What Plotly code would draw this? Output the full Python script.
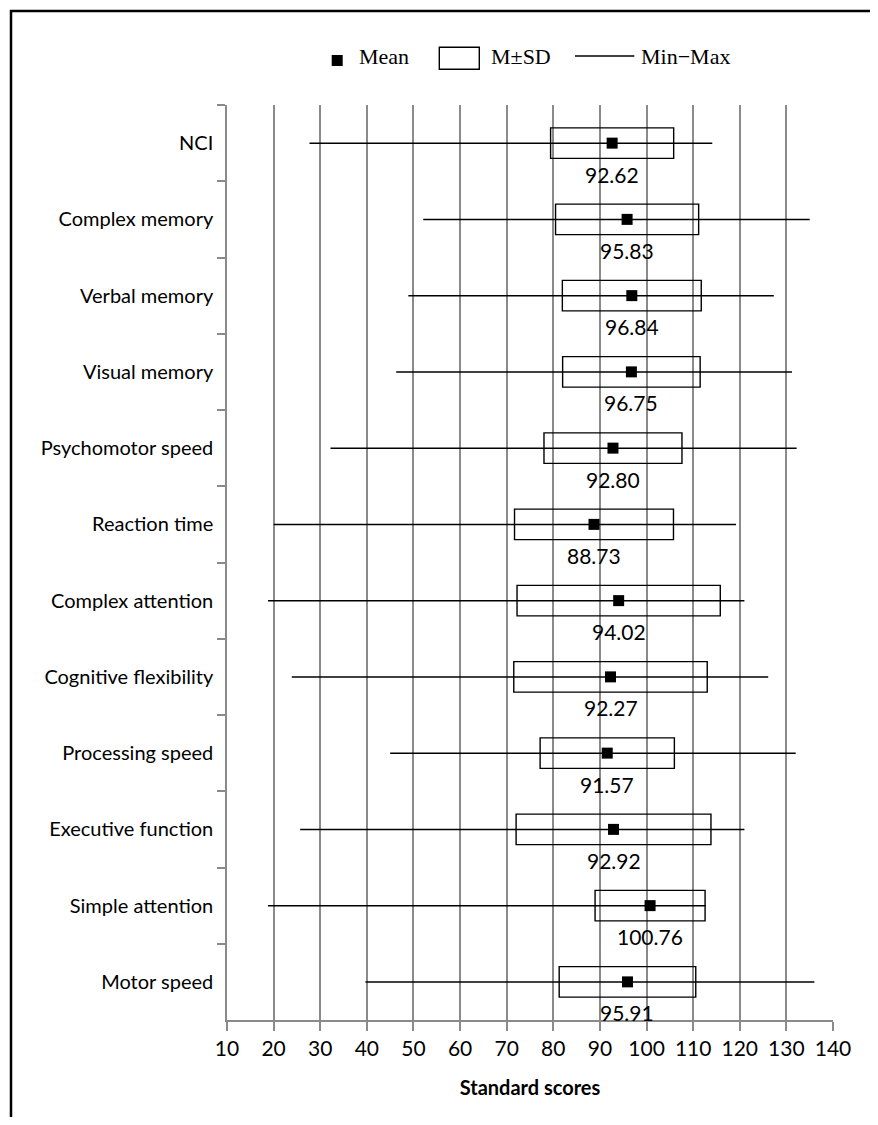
import plotly.graph_objects as go

categories = ["NCI", "Complex memory", "Verbal memory", "Visual memory",
              "Psychomotor speed", "Reaction time", "Complex attention",
              "Cognitive flexibility", "Processing speed", "Executive function",
              "Simple attention", "Motor speed"]
means = [92.62, 95.83, 96.84, 96.75, 92.80, 88.73, 94.02, 92.27, 91.57, 92.92, 100.76, 95.91]
sds = [13.2, 15.35, 14.9, 14.75, 14.8, 17.05, 21.8, 20.75, 14.4, 20.9, 11.8, 14.65]
mins = [27.7, 52.1, 48.9, 46.3, 32.2, 20.0, 18.8, 23.9, 45.0, 25.7, 18.8, 39.7]
maxs = [114.1, 135.0, 127.3, 131.2, 132.2, 119.2, 121.0, 126.1, 132.0, 121.0, 112.7, 136.0]
x_ticks = list(range(10, 141, 10))

# page has an 8px body margin; figure is sized to fit the window
OFF = 8
W, H = 878 - 2 * OFF, 1125 - 2 * OFF
L, R, T, B = 227 - OFF, 878 - 833 - OFF, 105 - OFF, 1125 - 1020 - OFF
pw, ph = W - L - R, H - T - B

def px(xp):  # page pixel -> paper x
    return (xp - OFF - L) / pw

def py(yp):  # page pixel -> paper y
    return (H - B - (yp - OFF)) / ph

fig = go.Figure()

# M±SD boxes
fig.add_trace(go.Bar(
    orientation="h", y=categories,
    x=[2 * s for s in sds], base=[m - s for m, s in zip(means, sds)],
    width=0.4, marker=dict(color="rgba(0,0,0,0)", line=dict(color="black", width=1.4)),
    hoverinfo="skip", showlegend=False))

# Min-Max lines
lx, ly = [], []
for c, lo, hi in zip(categories, mins, maxs):
    lx += [lo, hi, None]
    ly += [c, c, None]
fig.add_trace(go.Scatter(x=lx, y=ly, mode="lines",
                         line=dict(color="black", width=1.5),
                         hoverinfo="skip", showlegend=False))

# Means
fig.add_trace(go.Scatter(x=means, y=categories, mode="markers",
                         marker=dict(symbol="square", size=11, color="black"),
                         showlegend=False))

annotations = []
for c, m in zip(categories, means):
    annotations.append(dict(x=m, y=c, xref="x", yref="y", text=f"{m:.2f}",
                            showarrow=False, yshift=-31,
                            font=dict(family="Lato", size=21, color="black")))

# Legend (manual)
shapes = []
shapes.append(dict(type="rect", xref="paper", yref="paper",
                   x0=px(331.7), x1=px(342.7), y0=py(66), y1=py(55),
                   fillcolor="black", line=dict(width=0)))
shapes.append(dict(type="rect", xref="paper", yref="paper",
                   x0=px(439.3), x1=px(479.3), y0=py(69.3), y1=py(47.3),
                   fillcolor="rgba(0,0,0,0)", line=dict(color="black", width=1.4)))
shapes.append(dict(type="line", xref="paper", yref="paper",
                   x0=px(575), x1=px(634.3), y0=py(56), y1=py(56),
                   line=dict(color="black", width=1.5)))
leg_font = dict(family="Liberation Serif", size=22, color="black")
for txt, xp in [("Mean", 357), ("M±SD", 489), ("Min\u2212Max", 639)]:
    annotations.append(dict(x=px(xp), y=py(57), xref="paper", yref="paper",
                            xanchor="left", yanchor="middle", text=txt,
                            showarrow=False, font=leg_font))

# outer frame
shapes.append(dict(type="line", xref="paper", yref="paper",
                   x0=px(11), x1=px(11), y0=py(10), y1=py(1140),
                   line=dict(color="black", width=2.5)))
shapes.append(dict(type="line", xref="paper", yref="paper",
                   x0=px(10), x1=px(900), y0=py(11), y1=py(11),
                   line=dict(color="black", width=2.5)))

grid_col = "#8a8a8a"
fig.update_layout(
    width=W, height=H,
    margin=dict(l=L, r=R, t=T, b=B),
    paper_bgcolor="white", plot_bgcolor="white",
    showlegend=False,
    annotations=annotations, shapes=shapes,
    xaxis=dict(range=[10, 140], tickvals=x_ticks, ticktext=[str(v) for v in x_ticks],
               showgrid=True, gridcolor=grid_col, gridwidth=1.5,
               showline=True, linecolor=grid_col, linewidth=1.5,
               ticks="outside", ticklen=9, tickcolor=grid_col, tickwidth=1.5,
               zeroline=False,
               tickfont=dict(family="Lato", size=21, color="black"),
               title=dict(text="<b>Standard scores</b>", standoff=22,
                          font=dict(family="Lato", size=20, color="black"))),
    yaxis=dict(type="category", categoryorder="array", categoryarray=categories,
               range=[11.5, -0.5], tickson="boundaries",
               showgrid=False, showline=True, linecolor=grid_col, linewidth=1.5,
               ticks="outside", ticklen=8, tickcolor=grid_col, tickwidth=1.5,
               ticklabelstandoff=8, zeroline=False,
               tickfont=dict(family="Lato", size=20, color="black")),
)

fig.write_html("out.html")
